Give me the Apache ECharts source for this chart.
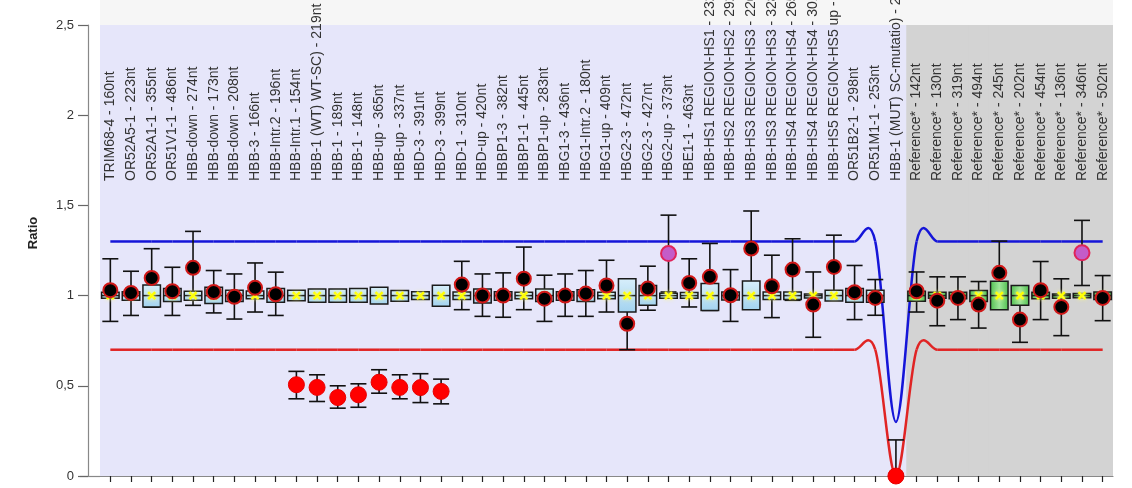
<!DOCTYPE html>
<html>
<head>
<meta charset="utf-8">
<script src="https://cdn.jsdelivr.net/npm/echarts@6/dist/echarts.min.js"></script>
<style>
  html, body { margin: 0; padding: 0; background: #ffffff; }
  #chart { width: 1132px; height: 488px; }
</style>
</head>
<body>
<div id="chart"></div>
<script>
// Probe names (capillary order)
const probes = [
  'TRIM68-4 - 160nt', 'OR52A5-1 - 223nt', 'OR52A1-1 - 355nt', 'OR51V1-1 - 486nt',
  'HBB-down - 274nt', 'HBB-down - 173nt', 'HBB-down - 208nt', 'HBB-3 - 166nt',
  'HBB-Intr.2 - 196nt', 'HBB-Intr.1 - 154nt', 'HBB-1 (WT) WT-SC) - 219nt', 'HBB-1 - 189nt',
  'HBB-1 - 148nt', 'HBB-up - 365nt', 'HBB-up - 337nt', 'HBD-3 - 391nt',
  'HBD-3 - 399nt', 'HBD-1 - 310nt', 'HBD-up - 420nt', 'HBBP1-3 - 382nt',
  'HBBP1-1 - 445nt', 'HBBP1-up - 283nt', 'HBG1-3 - 436nt', 'HBG1-Intr.2 - 180nt',
  'HBG1-up - 409nt', 'HBG2-3 - 472nt', 'HBG2-3 - 427nt', 'HBG2-up - 373nt',
  'HBE1-1 - 463nt', 'HBB-HS1 REGION-HS1 - 232nt', 'HBB-HS2 REGION-HS2 - 292nt',
  'HBB-HS3 REGION-HS3 - 226nt', 'HBB-HS3 REGION-HS3 - 328nt', 'HBB-HS4 REGION-HS4 - 265nt',
  'HBB-HS4 REGION-HS4 - 301nt', 'HBB-HS5 REGION-HS5 up - 256nt', 'OR51B2-1 - 298nt',
  'OR51M1-1 - 253nt', 'HBB-1 (MUT) SC-mutatio) - 219nt',
  'Reference* - 142nt', 'Reference* - 130nt', 'Reference* - 319nt', 'Reference* - 494nt',
  'Reference* - 245nt', 'Reference* - 202nt', 'Reference* - 454nt', 'Reference* - 136nt',
  'Reference* - 346nt', 'Reference* - 502nt'
];

// Sample ratio per probe
const ratios = [
  1.03, 1.015, 1.098, 1.024, 1.154, 1.02, 0.993, 1.043,
  1.007, 0.506, 0.491, 0.435, 0.45, 0.52, 0.491, 0.49,
  0.469, 1.061, 1.0, 1.0, 1.094, 0.983, 1.0, 1.011,
  1.056, 0.844, 1.039, 1.233, 1.07, 1.104, 1.002, 1.261,
  1.052, 1.144, 0.95, 1.159, 1.019, 0.987, 0.0,
  1.024, 0.972, 0.987, 0.95, 1.126, 0.867, 1.03, 0.937, 1.237, 0.987
];

// 95% confidence range of the sample ratio
const ciLow = [
  0.857, 0.89, 0.936, 0.89, 0.946, 0.904, 0.87, 0.909,
  0.89, 0.428, 0.413, 0.376, 0.381, 0.459, 0.428, 0.407,
  0.4, 0.922, 0.885, 0.88, 0.922, 0.857, 0.885, 0.885,
  0.909, 0.70, 0.919, 1.02, 0.937, 0.918, 0.857, 1.053,
  0.878, 0.974, 0.769, 0.983, 0.867, 0.891, 0.0,
  0.909, 0.833, 0.867, 0.82, 0.95, 0.741, 0.867, 0.778, 1.056, 0.861
];
const ciHigh = [
  1.204, 1.135, 1.26, 1.157, 1.356, 1.139, 1.12, 1.181,
  1.13, 0.58, 0.561, 0.5, 0.511, 0.589, 0.561, 0.567,
  0.537, 1.19, 1.12, 1.126, 1.269, 1.113, 1.12, 1.139,
  1.196, 0.99, 1.163, 1.446, 1.204, 1.289, 1.144, 1.469,
  1.224, 1.315, 1.131, 1.335, 1.167, 1.089, 0.2,
  1.131, 1.104, 1.104, 1.078, 1.302, 0.993, 1.189, 1.093, 1.417, 1.111
];

// Reference sample spread (box) and median per probe
const boxLow = [
  0.985, 0.974, 0.937, 0.967, 0.974, 0.956, 0.967, 0.982,
  0.963, 0.972, 0.963, 0.963, 0.963, 0.954, 0.969, 0.978,
  0.941, 0.978, 0.959, 0.974, 0.982, 0.967, 0.974, 0.967,
  0.982, 0.909, 0.946, 0.985, 0.985, 0.917, 0.976, 0.922,
  0.978, 0.978, 0.987, 0.97, 0.963, 0.963, null,
  0.969, 0.985, 0.982, 0.967, 0.922, 0.946, 0.982, 0.985, 0.988, 0.978
];
const boxHigh = [
  1.018, 1.022, 1.059, 1.039, 1.024, 1.046, 1.03, 1.026,
  1.039, 1.03, 1.037, 1.037, 1.04, 1.046, 1.028, 1.022,
  1.057, 1.02, 1.037, 1.022, 1.018, 1.037, 1.022, 1.033,
  1.018, 1.093, 1.056, 1.013, 1.017, 1.067, 1.02, 1.081,
  1.02, 1.02, 1.009, 1.03, 1.039, 1.03, null,
  1.024, 1.018, 1.018, 1.028, 1.079, 1.056, 1.018, 1.009, 1.012, 1.02
];
const refMedian = [
  1, 1, 1, 1, 1, 1, 1, 1, 1, 1, 1, 1, 1, 1, 1, 1, 1, 1, 1, 1, 1, 1, 1, 1, 1,
  1, 1, 1, 1, 1, 1, 1, 1, 1, 1, 1, 1, 1, null, 1, 1, 1, 1, 1, 1, 1, 1, 1, 1
];

// Call per probe: n = normal, loss = deletion, gain = flagged increase
const calls = [
  'n', 'n', 'n', 'n', 'n', 'n', 'n', 'n',
  'n', 'loss', 'loss', 'loss', 'loss', 'loss', 'loss', 'loss',
  'loss', 'n', 'n', 'n', 'n', 'n', 'n', 'n',
  'n', 'n', 'n', 'gain', 'n', 'n', 'n', 'n',
  'n', 'n', 'n', 'n', 'n', 'n', 'loss',
  'n', 'n', 'n', 'n', 'n', 'n', 'n', 'n', 'gain', 'n'
];

// Arbitrary duplication / deletion limits per probe
const upperLimit = [
  1.3, 1.3, 1.3, 1.3, 1.3, 1.3, 1.3, 1.3, 1.3, 1.3, 1.3, 1.3, 1.3, 1.3, 1.3, 1.3, 1.3, 1.3, 1.3, 1.3,
  1.3, 1.3, 1.3, 1.3, 1.3, 1.3, 1.3, 1.3, 1.3, 1.3, 1.3, 1.3, 1.3, 1.3, 1.3, 1.3, 1.3, 1.3, 0.3,
  1.3, 1.3, 1.3, 1.3, 1.3, 1.3, 1.3, 1.3, 1.3, 1.3
];
const lowerLimit = [
  0.7, 0.7, 0.7, 0.7, 0.7, 0.7, 0.7, 0.7, 0.7, 0.7, 0.7, 0.7, 0.7, 0.7, 0.7, 0.7, 0.7, 0.7, 0.7, 0.7,
  0.7, 0.7, 0.7, 0.7, 0.7, 0.7, 0.7, 0.7, 0.7, 0.7, 0.7, 0.7, 0.7, 0.7, 0.7, 0.7, 0.7, 0.7, 0.0,
  0.7, 0.7, 0.7, 0.7, 0.7, 0.7, 0.7, 0.7, 0.7, 0.7
];

const FONT = "'Liberation Sans', Arial, sans-serif";
const isReference = i => probes[i].indexOf('Reference') === 0;

const chart = echarts.init(document.getElementById('chart'), null, { renderer: 'canvas' });

// Grey backdrop behind the reference probes
function renderRefBand(params, api) {
  const i = api.value(0);
  const c = api.coord([i, 0]);
  const w = api.size([1, 0])[0];
  const cs = params.coordSys;
  const last = i === probes.length - 1;
  return {
    type: 'rect',
    shape: { x: c[0] - w / 2, y: cs.y, width: last ? w : w + 1, height: cs.height },
    style: { fill: '#d3d3d3' },
    silent: true
  };
}

// Catmull-Rom spline through the per-probe limits, one segment per item
function limitRenderer(values, color) {
  const n = values.length;
  return function (params, api) {
    const i = params.dataIndex;
    if (i >= n - 1) return null;
    const P = k => {
      const j = Math.max(0, Math.min(n - 1, k));
      return api.coord([j, values[j]]);
    };
    const p0 = P(i - 1), p1 = P(i), p2 = P(i + 1), p3 = P(i + 2);
    return {
      type: 'bezierCurve',
      shape: {
        x1: p1[0], y1: p1[1], x2: p2[0], y2: p2[1],
        cpx1: p1[0] + (p2[0] - p0[0]) / 6, cpy1: p1[1] + (p2[1] - p0[1]) / 6,
        cpx2: p2[0] - (p3[0] - p1[0]) / 6, cpy2: p2[1] - (p3[1] - p1[1]) / 6
      },
      style: { stroke: color, lineWidth: 2.5, fill: null },
      silent: true
    };
  };
}

// Confidence whiskers with caps
function renderWhisker(params, api) {
  const i = api.value(0);
  const top = api.coord([i, api.value(2)]);
  const bot = api.coord([i, api.value(1)]);
  const half = 8;
  const st = { stroke: '#111', lineWidth: 1.6 };
  return {
    type: 'group',
    children: [
      { type: 'line', shape: { x1: top[0], y1: top[1], x2: bot[0], y2: bot[1] }, style: st },
      { type: 'line', shape: { x1: top[0] - half, y1: top[1], x2: top[0] + half, y2: top[1] }, style: st },
      { type: 'line', shape: { x1: bot[0] - half, y1: bot[1], x2: bot[0] + half, y2: bot[1] }, style: st }
    ]
  };
}

const blueFill = new echarts.graphic.LinearGradient(0, 0, 0, 1, [
  { offset: 0, color: '#d8effb' }, { offset: 1, color: '#a2d2ef' }
]);
const greenFill = new echarts.graphic.LinearGradient(0, 0, 1, 0, [
  { offset: 0, color: '#4cbc4c' }, { offset: 0.5, color: '#9ee69a' }, { offset: 1, color: '#4cbc4c' }
]);

// Reference spread box, median line and median marker
function renderBox(params, api) {
  const i = api.value(0);
  const hi = api.coord([i, api.value(2)]);
  const lo = api.coord([i, api.value(1)]);
  const md = api.coord([i, api.value(3)]);
  const bw = 17.5;
  const x0 = hi[0] - bw / 2;
  const m = 3.5;
  const star = { stroke: '#ffff00', lineWidth: 2.4, shadowBlur: 4, shadowColor: '#ffff80' };
  return {
    type: 'group',
    children: [
      {
        type: 'rect',
        shape: { x: x0, y: hi[1], width: bw, height: Math.max(lo[1] - hi[1], 2) },
        style: { fill: isReference(i) ? greenFill : blueFill, stroke: '#1a1a1a', lineWidth: 1.5 }
      },
      { type: 'line', shape: { x1: x0, y1: md[1], x2: x0 + bw, y2: md[1] }, style: { stroke: '#1a1a1a', lineWidth: 1.5 } },
      { type: 'line', shape: { x1: md[0] - m, y1: md[1] - m, x2: md[0] + m, y2: md[1] + m }, style: star },
      { type: 'line', shape: { x1: md[0] - m, y1: md[1] + m, x2: md[0] + m, y2: md[1] - m }, style: star }
    ]
  };
}

const idx = probes.map((_, i) => i);
const refBandData = idx.filter(isReference).map(i => [i]);
const whiskerData = idx.map(i => [i, ciLow[i], ciHigh[i]]);
const boxData = idx.filter(i => boxLow[i] != null).map(i => [i, boxLow[i], boxHigh[i], refMedian[i]]);
const dotsOf = c => idx.filter(i => calls[i] === c).map(i => [i, ratios[i]]);

const option = {
  animation: false,
  backgroundColor: '#ffffff',
  grid: [
    { left: 100, right: 19, top: 25, bottom: 12, show: true, backgroundColor: '#e6e6fa', borderWidth: 0 },
    { left: 100, right: 19, top: 182, height: 1 }
  ],
  xAxis: [
    {
      type: 'category', gridIndex: 0, data: probes, boundaryGap: true,
      axisLine: { show: true, lineStyle: { color: '#888888', width: 1.2 } },
      axisTick: { show: true, interval: 0, alignWithLabel: true, length: 6, lineStyle: { color: '#222', width: 1.2 } },
      axisLabel: { show: false, interval: 0 },
      splitLine: { show: false }
    },
    {
      type: 'category', gridIndex: 1, data: probes, position: 'top', boundaryGap: true, z: 10,
      axisLine: { show: false }, axisTick: { show: false }, splitLine: { show: false },
      axisLabel: { interval: 0, rotate: 90, margin: 2, fontSize: 14, color: '#333', fontFamily: FONT }
    }
  ],
  yAxis: [
    {
      type: 'value', gridIndex: 0, min: 0, max: 2.5, interval: 0.5, offset: 12,
      axisLine: { show: true, lineStyle: { color: '#888888', width: 1.2 } },
      axisTick: { show: true, length: 10, lineStyle: { color: '#666', width: 1.2 } },
      axisLabel: {
        margin: 14, fontSize: 13, color: '#333', fontFamily: FONT,
        formatter: v => String(v).replace('.', ',')
      },
      splitLine: { show: false }
    },
    { type: 'value', gridIndex: 1, show: false }
  ],
  graphic: [
    { type: 'rect', shape: { x: 100, y: 0, width: 1013, height: 25 }, style: { fill: '#f6f6f6' }, silent: true, z: -1 },
    { type: 'line', shape: { x1: 80, y1: 476.5, x2: 100, y2: 476.5 }, style: { stroke: '#888888', lineWidth: 1.2 }, silent: true },
    {
      type: 'text', x: 33, y: 233, rotation: Math.PI / 2,
      style: { text: 'Ratio', font: 'bold 13px ' + FONT, fill: '#222', textAlign: 'center', textVerticalAlign: 'middle' },
      silent: true
    }
  ],
  series: [
    { type: 'custom', name: 'reference band', xAxisIndex: 0, yAxisIndex: 0, renderItem: renderRefBand, data: refBandData, silent: true, z: 1 },
    { type: 'custom', name: 'upper limit', xAxisIndex: 0, yAxisIndex: 0, renderItem: limitRenderer(upperLimit, '#1515d8'), data: upperLimit.map((v, i) => [i, v]), z: 2 },
    { type: 'custom', name: 'lower limit', xAxisIndex: 0, yAxisIndex: 0, renderItem: limitRenderer(lowerLimit, '#e02424'), data: lowerLimit.map((v, i) => [i, v]), z: 2 },
    { type: 'custom', name: 'confidence', xAxisIndex: 0, yAxisIndex: 0, renderItem: renderWhisker, data: whiskerData, z: 3 },
    { type: 'custom', name: 'reference spread', xAxisIndex: 0, yAxisIndex: 0, renderItem: renderBox, data: boxData, z: 4 },
    {
      type: 'scatter', name: 'ratio', xAxisIndex: 0, yAxisIndex: 0, data: dotsOf('n'), symbolSize: 14, z: 5,
      itemStyle: { color: '#000000', borderColor: '#d01818', borderWidth: 2, opacity: 1 }
    },
    {
      type: 'scatter', name: 'loss', xAxisIndex: 0, yAxisIndex: 0, data: dotsOf('loss'), symbolSize: 16, z: 5,
      itemStyle: { color: '#ff0000', borderColor: '#e80000', borderWidth: 1, opacity: 1 }
    },
    {
      type: 'scatter', name: 'gain', xAxisIndex: 0, yAxisIndex: 0, data: dotsOf('gain'), symbolSize: 15, z: 5,
      itemStyle: { color: '#c45cc8', borderColor: '#e0245a', borderWidth: 2, opacity: 1 }
    }
  ]
};

chart.setOption(option);
</script>
</body>
</html>
